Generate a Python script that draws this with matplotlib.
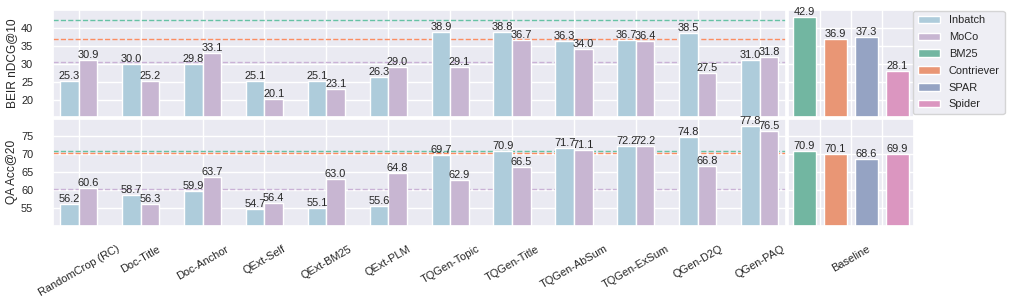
import numpy as np
import matplotlib
matplotlib.use("Agg")
import matplotlib.pyplot as plt
import seaborn as sns

# method groups (left panels)
groups = ["RandomCrop (RC)", "Doc-Title", "Doc-Anchor", "QExt-Self", "QExt-BM25",
          "QExt-PLM", "TQGen-Topic", "TQGen-Title", "TQGen-AbSum", "TQGen-ExSum",
          "QGen-D2Q", "QGen-PAQ"]
beir_inbatch = [25.3, 30.0, 29.8, 25.1, 25.1, 26.3, 38.9, 38.8, 36.3, 36.7, 38.5, 31.0]
beir_moco = [30.9, 25.2, 33.1, 20.1, 23.1, 29.0, 29.1, 36.7, 34.0, 36.4, 27.5, 31.8]
qa_inbatch = [56.2, 58.7, 59.9, 54.7, 55.1, 55.6, 69.7, 70.9, 71.7, 72.2, 74.8, 77.8]
qa_moco = [60.6, 56.3, 63.7, 56.4, 63.0, 64.8, 62.9, 66.5, 71.1, 72.2, 66.8, 76.5]

# baselines (right panels)
baselines = ["BM25", "Contriever", "SPAR", "Spider"]
beir_base = [42.9, 36.9, 37.3, 28.1]
qa_base = [70.9, 70.1, 68.6, 69.9]

# dashed reference lines: BM25, Contriever, MoCo(RC)
beir_ref = [42.0, 36.9, 30.4]
qa_ref = [70.9, 70.2, 60.4]

sns.set_theme(style="darkgrid")
plt.rcParams["font.family"] = ["Liberation Sans", "DejaVu Sans"]
plt.rcParams["text.color"] = ".15"

pal_paired = sns.color_palette("Paired")
pal_set2 = sns.color_palette("Set2")
c_inbatch = sns.desaturate(pal_paired[0], 0.75)
c_moco = sns.desaturate(pal_paired[8], 0.75)
c_base = [sns.desaturate(c, 0.75) for c in pal_set2[:4]]
ref_colors = [pal_set2[0], pal_set2[1], pal_paired[8]]

FS = 7.9
my_dpi = 100
fig = plt.figure(figsize=(1018 / my_dpi, 297 / my_dpi), dpi=my_dpi)

ax_l1 = fig.add_axes([0.0518, 0.6071, 0.7200, 0.3593])
ax_r1 = fig.add_axes([0.7736, 0.6071, 0.1246, 0.3593])
ax_l2 = fig.add_axes([0.0518, 0.2401, 0.7200, 0.3603])
ax_r2 = fig.add_axes([0.7736, 0.2401, 0.1246, 0.3603])

x = np.arange(len(groups))
w = 0.3
xb = np.arange(len(baselines))


def annotate(ax, bars):
    for b in bars:
        h = b.get_height()
        ax.text(b.get_x() + b.get_width() / 2, h, "%.1f" % h,
                ha="center", va="bottom", fontsize=FS, color=".15")


rows = [
    (ax_l1, ax_r1, beir_inbatch, beir_moco, beir_base, beir_ref, (15.3, 44.9),
     [20, 25, 30, 35, 40], "BEIR nDCG@10"),
    (ax_l2, ax_r2, qa_inbatch, qa_moco, qa_base, qa_ref, (50.2, 79.8),
     [55, 60, 65, 70, 75], "QA Acc@20"),
]

handles = []
for ax_l, ax_r, inb, moco, base, ref, ylim, yt, ylab in rows:
    b1 = ax_l.bar(x - w / 2, inb, w, color=c_inbatch, edgecolor="white",
                  linewidth=1, label="Inbatch", zorder=2)
    b2 = ax_l.bar(x + w / 2, moco, w, color=c_moco, edgecolor="white",
                  linewidth=1, label="MoCo", zorder=2)
    annotate(ax_l, b1)
    annotate(ax_l, b2)
    for val, c in zip(ref, ref_colors):
        ax_l.axhline(val, color=c, linestyle="--", linewidth=1, zorder=1.5)
    ax_l.set_xlim(-0.42, len(groups) - 0.58)
    ax_l.set_ylim(*ylim)
    ax_l.set_yticks(yt)
    ax_l.set_xticks(x)
    ax_l.tick_params(axis="y", labelsize=FS, pad=8)
    ax_l.set_ylabel(ylab, fontsize=8.6)
    ax_l.yaxis.set_label_coords(-0.047, 0.5)

    bb = ax_r.bar(xb, base, 0.74, color=c_base, edgecolor="white",
                  linewidth=1, zorder=2)
    annotate(ax_r, bb)
    ax_r.set_xlim(-0.55, len(baselines) - 0.45)
    ax_r.set_ylim(*ylim)
    ax_r.set_yticks(yt)
    ax_r.set_yticklabels([])
    ax_r.set_xticks([0.5, 1.5, 2.5])

    if not handles:
        handles = [b1, b2] + list(bb)

ax_l1.set_xticklabels([])
ax_r1.set_xticklabels([])
ax_l2.set_xticklabels(groups, rotation=30, fontsize=FS)
ax_r2.set_xticklabels(["", "Baseline", ""], rotation=30, fontsize=FS)
ax_l2.tick_params(axis="x", pad=7)
ax_r2.tick_params(axis="x", pad=7)

fig.legend(handles, ["Inbatch", "MoCo"] + baselines, loc="upper left",
           bbox_to_anchor=(913 / 1018, 1 - 10.5 / 297), borderaxespad=0,
           fontsize=FS, frameon=True, facecolor="#EAEAF2", edgecolor="0.8",
           labelspacing=0.62, borderpad=0.45)

fig.savefig("out.png", dpi=my_dpi)
